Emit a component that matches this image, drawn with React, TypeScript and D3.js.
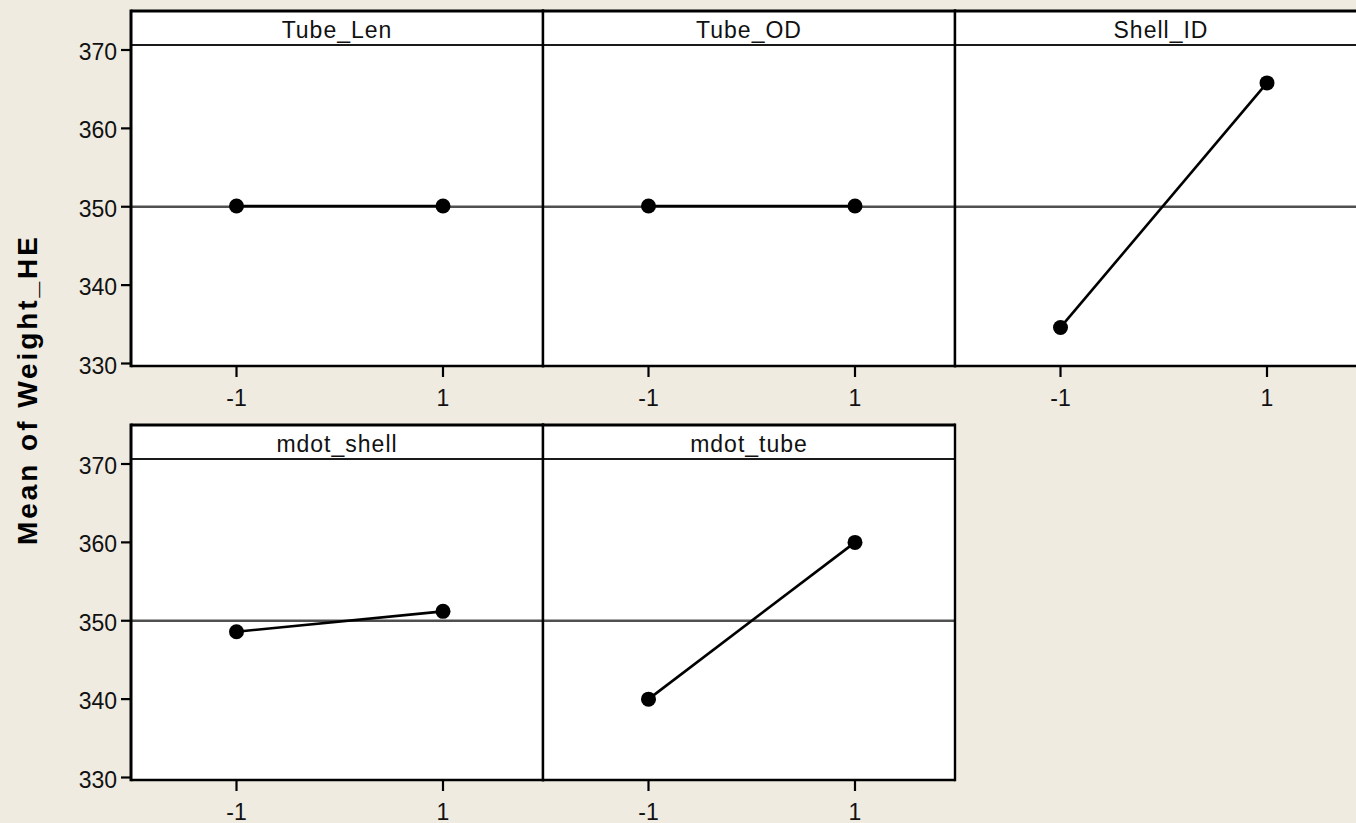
import * as d3 from "d3";

const factors = ["Tube_Len", "Tube_OD", "Shell_ID", "mdot_shell", "mdot_tube"];
const levels = [-1, 1];
const meanLow = [350.1, 350.1, 334.6, 348.6, 340.0];
const meanHigh = [350.1, 350.1, 365.8, 351.2, 360.0];
const yTicks = [330, 340, 350, 360, 370];
const grandMean = 350;
const yTitle = "Mean of Weight_HE";

const W = 1356;
const H = 823;
const BG = "#EFEBE1";
const FONT = "'Liberation Sans', Arial, sans-serif";

// panel grid
const left0 = 131;
const top0 = 11;
const panelW = 412;
const rowStep = 414;
const headerH = 34;

export default function App() {
  const panels = factors.map((name, i) => {
    const row = Math.floor(i / 3);
    const col = i % 3;
    const x0 = left0 + col * panelW;
    const y0 = top0 + row * rowStep;
    const x = d3
      .scaleLinear()
      .domain([-1, 1])
      .range([x0 + 105.5, x0 + 312]);
    const y = d3
      .scaleLinear()
      .domain([330, 370])
      .range([y0 + 352.5, y0 + 39]);
    const pts: [number, number][] = [
      [levels[0], meanLow[i]],
      [levels[1], meanHigh[i]],
    ];
    return { name, i, row, col, x0, y0, x, y, pts };
  });

  const line = d3.line<[number, number]>();

  return (
    <svg
      width={W}
      height={H}
      style={{ position: "absolute", left: 0, top: 0, display: "block" }}
      fontFamily={FONT}
    >
      <rect width={W} height={H} fill={BG} />

      {panels.map((p) => {
        const bottom = p.y0 + 355;
        const path = line(p.pts.map((d) => [p.x(d[0]), p.y(d[1])]));
        return (
          <g key={p.name}>
            {/* panel body */}
            <rect x={p.x0} y={p.y0} width={panelW} height={bottom - p.y0} fill="#fff" />
            {/* reference line at grand mean */}
            <line
              x1={p.x0}
              x2={p.x0 + panelW}
              y1={p.y(grandMean)}
              y2={p.y(grandMean)}
              stroke="#505050"
              strokeWidth={2.6}
            />
            <path d={path || ""} fill="none" stroke="#000" strokeWidth={2.6} />
            {p.pts.map((d, k) => (
              <circle key={k} cx={p.x(d[0])} cy={p.y(d[1])} r={7.5} fill="#000" />
            ))}
            {/* header */}
            <line
              x1={p.x0}
              x2={p.x0 + panelW}
              y1={p.y0 + headerH}
              y2={p.y0 + headerH}
              stroke="#1a1a1a"
              strokeWidth={2.2}
            />
            <text
              x={p.x0 + panelW / 2}
              y={p.y0 + 26.5}
              textAnchor="middle"
              fontSize={23}
              letterSpacing={1}
              fill="#111"
            >
              {p.name}
            </text>
            {/* frame */}
            <line x1={p.x0} x2={p.x0 + panelW} y1={p.y0} y2={p.y0} stroke="#000" strokeWidth={3} />
            <line x1={p.x0} x2={p.x0 + panelW} y1={bottom} y2={bottom} stroke="#000" strokeWidth={2.4} />
            <line
              x1={p.x0}
              x2={p.x0}
              y1={p.y0 - 1.5}
              y2={bottom + 1.2}
              stroke="#000"
              strokeWidth={p.col === 0 ? 3 : 2.4}
            />
            <line
              x1={p.x0 + panelW}
              x2={p.x0 + panelW}
              y1={p.y0 - 1.5}
              y2={bottom + 1.2}
              stroke="#000"
              strokeWidth={2.4}
            />
            {/* x ticks */}
            {levels.map((v) => (
              <g key={v}>
                <line
                  x1={p.x(v)}
                  x2={p.x(v)}
                  y1={bottom}
                  y2={bottom + 11}
                  stroke="#000"
                  strokeWidth={2.2}
                />
                <text
                  x={p.x(v)}
                  y={bottom + 39.5}
                  textAnchor="middle"
                  fontSize={23}
                  fill="#111"
                >
                  {v === -1 ? "-1" : "1"}
                </text>
              </g>
            ))}
            {/* y ticks, first column only */}
            {p.col === 0 &&
              yTicks.map((t) => (
                <g key={t}>
                  <line
                    x1={p.x0 - 10}
                    x2={p.x0}
                    y1={p.y(t)}
                    y2={p.y(t)}
                    stroke="#000"
                    strokeWidth={2.2}
                  />
                  <text
                    x={p.x0 - 14}
                    y={p.y(t) + 10}
                    textAnchor="end"
                    fontSize={23}
                    fill="#111"
                  >
                    {t}
                  </text>
                </g>
              ))}
          </g>
        );
      })}

      <text
        transform="translate(37,391) rotate(-90)"
        textAnchor="middle"
        fontSize={28}
        fontWeight="bold"
        textLength={308}
        lengthAdjust="spacing"
        fill="#000"
      >
        {yTitle}
      </text>
    </svg>
  );
}
